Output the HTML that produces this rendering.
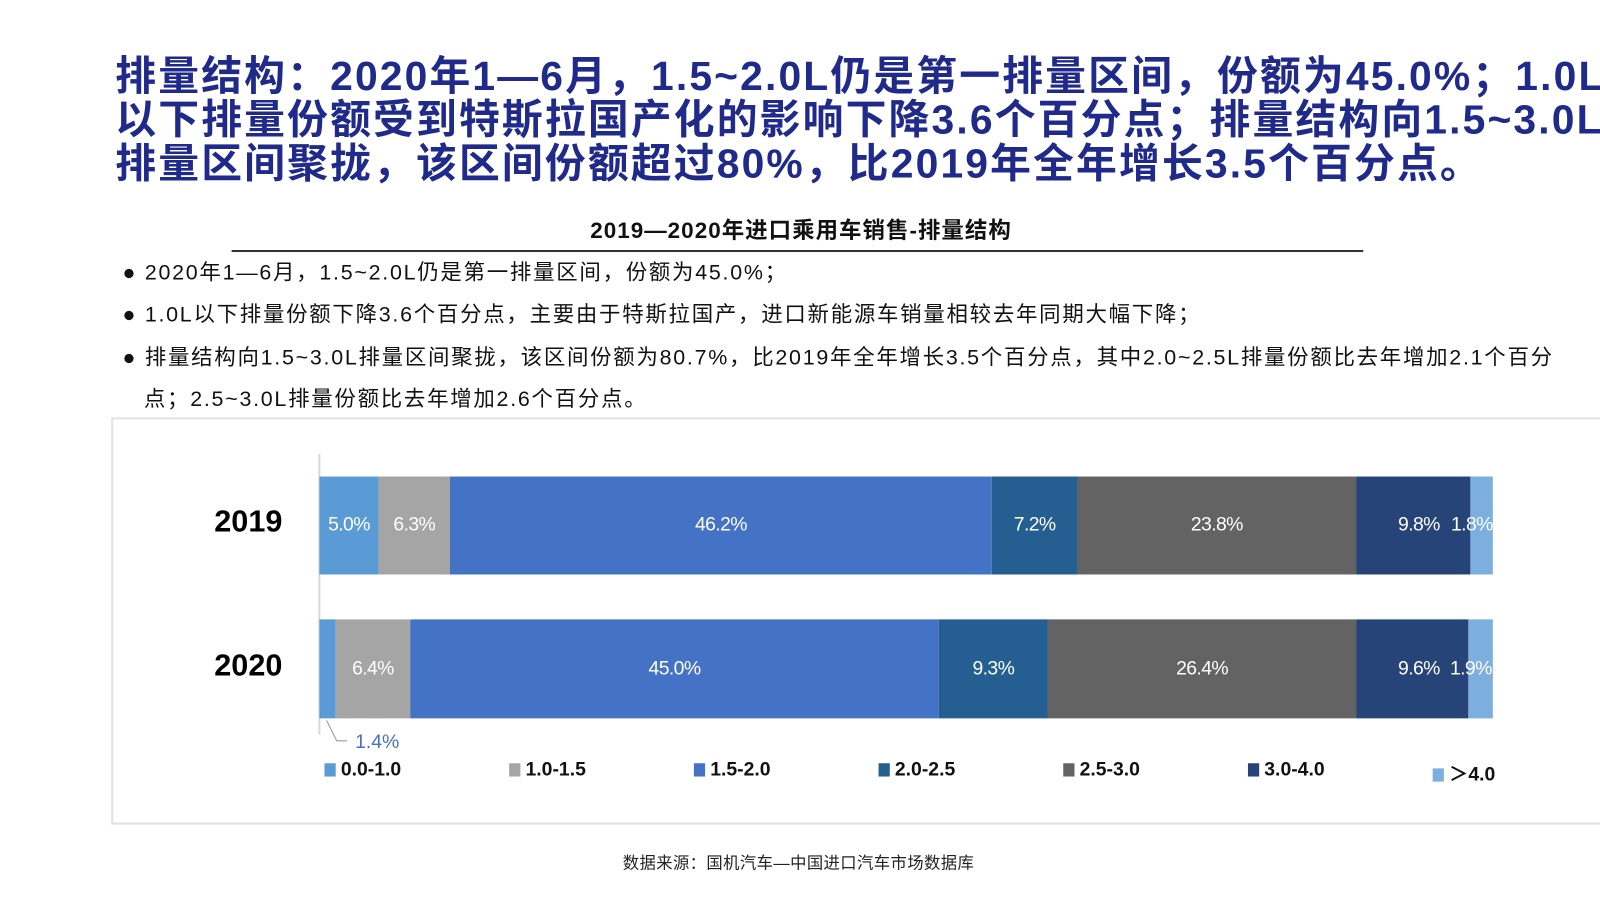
<!DOCTYPE html>
<html><head><meta charset="utf-8"><style>
body{margin:0;width:1600px;height:899px;background:#fff;position:relative;overflow:hidden;font-family:"Liberation Sans","Noto Sans CJK SC",sans-serif}
#w{position:absolute;left:0;top:0;width:1568px;height:881px;transform:scale(1.0204);transform-origin:0 0}
.t{position:absolute;white-space:nowrap}
.title{left:113px;font-size:40px;font-weight:bold;color:#1f2a8a;line-height:43px;top:54px;letter-spacing:2.1px}
.b{left:120px;font-size:21px;color:#111;letter-spacing:1.7px}
.seg{position:absolute;display:flex;align-items:center;justify-content:center;color:#fff;font-size:19px;letter-spacing:-0.6px;overflow:visible;white-space:nowrap}
.lg{position:absolute;top:744px;font-size:19px;font-weight:bold;color:#111;white-space:nowrap}
.lg i{display:inline-block;width:11px;height:13px;margin-right:5px;vertical-align:-1px}
</style></head><body><div id="w">
<div class="t title">排量结构：2020年1—6月，1.5~2.0L仍是第一排量区间，份额为45.0%；1.0L<br>以下排量份额受到特斯拉国产化的影响下降3.6个百分点；排量结构向1.5~3.0L<br>排量区间聚拢，该区间份额超过80%，比2019年全年增长3.5个百分点。</div>
<div class="t" style="left:0;width:1570px;text-align:center;top:208px;font-size:22px;font-weight:bold;color:#111;letter-spacing:1px">2019—2020年进口乘用车销售-排量结构</div>
<div style="position:absolute;left:227px;width:1109px;top:245px;height:2px;background:#333"></div>
<div class="t b" style="top:251px">● 2020年1—6月，1.5~2.0L仍是第一排量区间，份额为45.0%；</div>
<div class="t b" style="top:292px">● 1.0L以下排量份额下降3.6个百分点，主要由于特斯拉国产，进口新能源车销量相较去年同期大幅下降；</div>
<div class="t b" style="top:334px">● 排量结构向1.5~3.0L排量区间聚拢，该区间份额为80.7%，比2019年全年增长3.5个百分点，其中2.0~2.5L排量份额比去年增加2.1个百分</div>
<div class="t b" style="top:375px;left:141px">点；2.5~3.0L排量份额比去年增加2.6个百分点。</div>
<div style="position:absolute;left:109px;top:409px;width:1500px;height:395px;border:2px solid #e2e2e2"></div>
<div style="position:absolute;left:312px;top:445px;width:2px;height:275px;background:#d9d9d9"></div>
<div class="t" style="left:210px;top:495px;font-size:30px;font-weight:bold">2019</div>
<div class="t" style="left:210px;top:636px;font-size:30px;font-weight:bold">2020</div>
<div class="seg" style="left:313px;width:58px;top:467px;height:96px;background:#5b9bd5">5.0%</div>
<div class="seg" style="left:371px;width:70px;top:467px;height:96px;background:#a5a5a5">6.3%</div>
<div class="seg" style="left:441px;width:531px;top:467px;height:96px;background:#4472c4">46.2%</div>
<div class="seg" style="left:972px;width:84px;top:467px;height:96px;background:#255e91">7.2%</div>
<div class="seg" style="left:1056px;width:273px;top:467px;height:96px;background:#636363">23.8%</div>
<div class="seg" style="left:1329px;width:112px;top:467px;height:96px;background:#264478;justify-content:flex-end;padding-right:30px;box-sizing:border-box">9.8%</div>
<div class="seg" style="left:1441px;width:22px;top:467px;height:96px;background:#7cafdd"><span style="position:absolute;left:-19px">1.8%</span></div>
<div class="seg" style="left:313px;width:16px;top:607px;height:97px;background:#5b9bd5"></div>
<div class="seg" style="left:329px;width:73px;top:607px;height:97px;background:#a5a5a5">6.4%</div>
<div class="seg" style="left:402px;width:518px;top:607px;height:97px;background:#4472c4">45.0%</div>
<div class="seg" style="left:920px;width:107px;top:607px;height:97px;background:#255e91">9.3%</div>
<div class="seg" style="left:1027px;width:302px;top:607px;height:97px;background:#636363">26.4%</div>
<div class="seg" style="left:1329px;width:110px;top:607px;height:97px;background:#264478;justify-content:flex-end;padding-right:28px;box-sizing:border-box">9.6%</div>
<div class="seg" style="left:1439px;width:24px;top:607px;height:97px;background:#7cafdd"><span style="position:absolute;left:-18px">1.9%</span></div>
<svg style="position:absolute;left:0;top:0" width="1568" height="881"><polyline points="320,706 330,726 340,726" fill="none" stroke="#999" stroke-width="1"/></svg>
<div class="t" style="left:348px;top:717px;font-size:19px;color:#4472c4">1.4%</div>
<div class="lg" style="left:318px"><i style="background:#5b9bd5"></i>0.0-1.0</div>
<div class="lg" style="left:499px"><i style="background:#a5a5a5"></i>1.0-1.5</div>
<div class="lg" style="left:680px"><i style="background:#4472c4"></i>1.5-2.0</div>
<div class="lg" style="left:861px"><i style="background:#255e91"></i>2.0-2.5</div>
<div class="lg" style="left:1042px"><i style="background:#636363"></i>2.5-3.0</div>
<div class="lg" style="left:1223px"><i style="background:#264478"></i>3.0-4.0</div>
<div class="lg" style="left:1404px"><i style="background:#7cafdd"></i>＞4.0</div>
<div class="t" style="left:0;width:1565px;text-align:center;top:832px;font-size:16px;color:#222;letter-spacing:0.4px">数据来源：国机汽车—中国进口汽车市场数据库</div>
</div></body></html>
